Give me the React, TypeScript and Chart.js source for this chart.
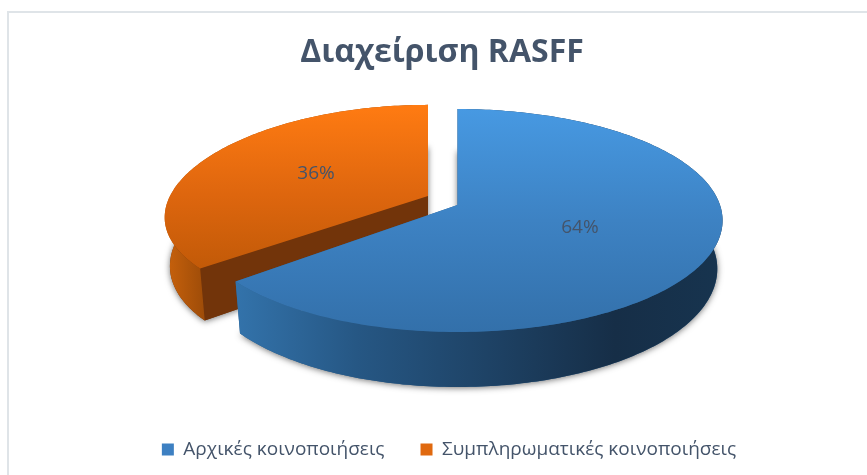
import React, { useEffect, useRef } from "react";
import { Chart, registerables } from "chart.js";

Chart.register(...registerables);

const titleText = "Διαχείριση RASFF";
const categories = ["Αρχικές κοινοποιήσεις", "Συμπληρωματικές κοινοποιήσεις"];
const shares = [64, 36];
const legendColors = ["#3d80c2", "#e0690f"];
const TEXT = "#44546a";
const FONT = "'Open Sans', 'Noto Sans', sans-serif";

const P = 0.139;
const DEPTH = 47.4;
const SHRINK = 0.98;

const sliceGeom = [
  {
    cx: 457.5, cy: 205, a: 262.5, k: 109.3, px: 0.139, labelFrac: 0.5,
    top: [[0, "#4799e2"], [0.5, "#3d82c3"], [1, "#3370aa"]],
    topY: [109, 332],
    wall: [[0, "#3373ab"], [0.25, "#265784"], [0.55, "#1d4062"], [0.78, "#162e47"], [1, "#17344f"]],
    wallX: [235, 722],
    face: "#2a5d8c",
  },
  {
    cx: 428, cy: 196, a: 258, k: 103.8, px: 0.2, labelFrac: 0.5,
    top: [[0, "#ff7b12"], [0.55, "#de660e"], [1, "#c25a08"]],
    topY: [105, 268],
    wall: [[0, "#c9620c"], [1, "#9a4a08"]],
    wallX: [165, 208],
    face: "#72340a",
  },
];

type G = (typeof sliceGeom)[number];

function proj(g: G, angle: number, r: number, low: boolean) {
  const u = r * Math.cos(angle);
  const v = r * Math.sin(angle);
  const d = 1 - P * v;
  const dx = 1 - g.px * v;
  const s = low ? SHRINK : 1;
  return {
    x: g.cx + (g.a * u * s) / dx,
    y: g.cy + (g.k * v) / d + (low ? DEPTH / d : 0),
  };
}

function ring(g: G, start: number, end: number, low: boolean) {
  const n = Math.max(2, Math.ceil(((end - start) * 180) / Math.PI));
  const pts = [];
  for (let i = 0; i <= n; i++) pts.push(proj(g, start + ((end - start) * i) / n, 1, low));
  return pts;
}

function fillPoly(ctx: CanvasRenderingContext2D, pts: { x: number; y: number }[]) {
  ctx.beginPath();
  pts.forEach((p, i) => (i ? ctx.lineTo(p.x, p.y) : ctx.moveTo(p.x, p.y)));
  ctx.closePath();
  ctx.fill();
}

function gradient(
  ctx: CanvasRenderingContext2D,
  x0: number, y0: number, x1: number, y1: number,
  stops: (number | string)[][]
) {
  const gr = ctx.createLinearGradient(x0, y0, x1, y1);
  stops.forEach((s) => gr.addColorStop(s[0] as number, s[1] as string));
  return gr;
}

const framePlugin = {
  id: "frame",
  afterLayout(chart: any) {
    chart.legend.left += 7;
    chart.legend.right += 7;
  },
  beforeDraw(chart: any) {
    const ctx = chart.ctx;
    ctx.save();
    ctx.fillStyle = "#ffffff";
    ctx.fillRect(0, 0, chart.width, chart.height);
    ctx.fillStyle = "#dfe4e8";
    ctx.fillRect(7, 11, chart.width - 7, 2);
    ctx.fillRect(7, 11, 2, chart.height - 11);
    ctx.restore();
  },
};

const pie3dPlugin = {
  id: "pie3d",
  beforeDatasetsDraw(chart: any) {
    const ctx: CanvasRenderingContext2D = chart.ctx;
    const arcs = chart.getDatasetMeta(0).data;
    ctx.save();
    [1, 0].forEach((i) => {
      const g = sliceGeom[i];
      const { startAngle, endAngle } = arcs[i].getProps(["startAngle", "endAngle"], true);
      const topEdge = ring(g, startAngle, endAngle, false);
      const lowEdge = ring(g, startAngle, endAngle, true);
      const apexT = { x: g.cx, y: g.cy };
      const apexL = { x: g.cx, y: g.cy + DEPTH };

      ctx.save();
      ctx.shadowColor = "rgba(0,0,0,0.55)";
      ctx.shadowBlur = 6;
      ctx.shadowOffsetY = 1;
      ctx.fillStyle = g.face;
      fillPoly(ctx, [apexL, ...lowEdge]);
      ctx.restore();

      ctx.fillStyle = g.face;
      fillPoly(ctx, [apexT, topEdge[0], lowEdge[0], apexL]);
      fillPoly(ctx, [apexT, topEdge[topEdge.length - 1], lowEdge[lowEdge.length - 1], apexL]);

      ctx.fillStyle = gradient(ctx, g.wallX[0], 0, g.wallX[1], 0, g.wall);
      fillPoly(ctx, [...topEdge, ...lowEdge.slice().reverse()]);

      ctx.fillStyle = gradient(ctx, 0, g.topY[0], 0, g.topY[1], g.top);
      fillPoly(ctx, [apexT, ...topEdge]);
    });

    ctx.fillStyle = TEXT;
    ctx.font = `19px ${FONT}`;
    ctx.textAlign = "center";
    ctx.textBaseline = "middle";
    const total = shares.reduce((s, v) => s + v, 0);
    shares.forEach((value, i) => {
      const g = sliceGeom[i];
      const { startAngle, endAngle } = arcs[i].getProps(["startAngle", "endAngle"], true);
      const p = proj(g, (startAngle + endAngle) / 2, g.labelFrac, false);
      ctx.fillText(`${Math.round((value / total) * 100)}%`, p.x, p.y - 1);
    });
    ctx.restore();
    return false;
  },
};

export default function App() {
  const ref = useRef<HTMLCanvasElement>(null);
  useEffect(() => {
    const chart = new Chart(ref.current!, {
      type: "pie",
      data: {
        labels: categories,
        datasets: [{ data: shares, backgroundColor: legendColors, borderWidth: 0 }],
      },
      options: {
        animation: false,
        responsive: false,
        layout: { padding: { left: 17, right: 0, top: 34, bottom: 6 } },
        plugins: {
          title: {
            display: true,
            text: titleText,
            color: TEXT,
            font: { family: FONT, size: 32, weight: "bold" },
            padding: { top: 0, bottom: 0 },
          },
          legend: {
            position: "bottom",
            labels: {
              color: TEXT,
              font: { family: FONT, size: 19 },
              boxWidth: 12,
              boxHeight: 12,
              padding: 36,
            },
          },
          tooltip: { enabled: false },
        },
      },
      plugins: [framePlugin, pie3dPlugin],
    } as any);
    return () => chart.destroy();
  }, []);
  return (
    <div style={{ position: "fixed", left: 0, top: 0, width: 867, height: 475 }}>
      <canvas ref={ref} width={867} height={475} style={{ display: "block" }} />
    </div>
  );
}
